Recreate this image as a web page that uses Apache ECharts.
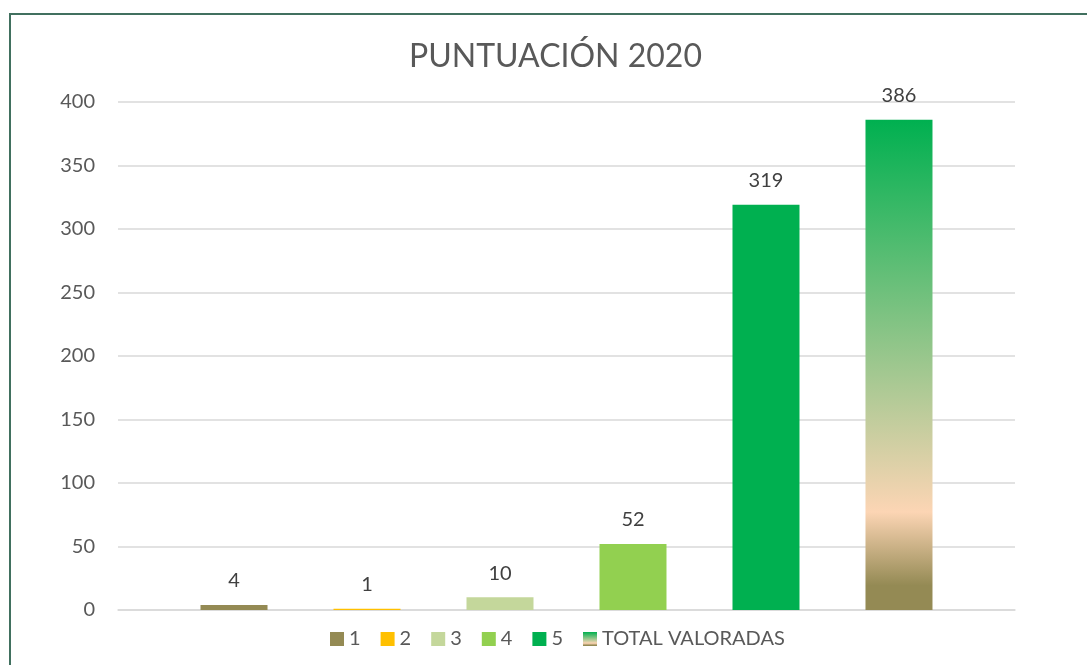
<!DOCTYPE html>
<html>
<head>
<meta charset="utf-8">
<script src="https://cdn.jsdelivr.net/npm/echarts@6/dist/echarts.min.js"></script>
<style>
  html, body { margin: 0; padding: 0; background: #fff; }
  #frame {
    position: absolute; left: 9px; top: 13px; width: 1100px; height: 700px;
    border-left: 2px solid #41705f; border-top: 2px solid #41705f; box-sizing: border-box;
  }
  #chart { position: absolute; left: 0; top: 0; width: 1087px; height: 665px; }
</style>
</head>
<body>
<div id="frame"></div>
<div id="chart"></div>
<script>
const categories = [''];
const seriesNames = ['1', '2', '3', '4', '5', 'TOTAL VALORADAS'];
const seriesValues = [4, 1, 10, 52, 319, 386];
const yTicks = [0, 50, 100, 150, 200, 250, 300, 350, 400];

const font = 'Lato';
const colors = [
    '#948A54',
    '#FFC000',
    '#C4D79B',
    '#92D050',
    '#00B050',
    {
        type: 'linear', x: 0, y: 0, x2: 0, y2: 1,
        colorStops: [
            { offset: 0, color: '#00B050' },
            { offset: 0.8, color: '#FCD5B4' },
            { offset: 0.95, color: '#948A54' },
            { offset: 1, color: '#948A54' },
        ],
    },
];

const chart = echarts.init(document.getElementById('chart'));

const option = {
    animation: false,
    textStyle: { fontFamily: font },
    title: {
        text: 'PUNTUACIÓN 2020',
        left: 404,
        top: 36,
        textStyle: { fontFamily: font, fontSize: 32, fontWeight: 'normal', color: '#595959' },
    },
    legend: {
        left: 325,
        top: 624,
        itemWidth: 14,
        itemHeight: 14,
        itemGap: 20,
        icon: 'rect',
        textStyle: { fontFamily: font, fontSize: 20, color: '#595959' },
        data: seriesNames,
    },
    grid: { left: 118, right: 72, top: 102, bottom: 55 },
    xAxis: {
        type: 'category',
        data: categories,
        axisLine: { lineStyle: { color: '#d9d9d9', width: 1.5 } },
        axisTick: { show: false },
        axisLabel: { show: false },
    },
    yAxis: {
        type: 'value',
        min: yTicks[0],
        max: yTicks[yTicks.length - 1],
        interval: 50,
        axisLine: { show: false },
        axisTick: { show: false },
        axisLabel: { fontFamily: font, fontSize: 20, color: '#595959', margin: 23 },
        splitLine: { lineStyle: { color: '#d9d9d9', width: 1.5 } },
    },
    series: seriesNames.map((name, i) => ({
        name: name,
        type: 'bar',
        data: [seriesValues[i]],
        barWidth: 67,
        barGap: '98.5%',
        itemStyle: { color: colors[i] },
        label: {
            show: true,
            position: 'top',
            distance: 14,
            fontFamily: font,
            fontSize: 20,
            color: '#404040',
        },
    })),
};

chart.setOption(option);
</script>
</body>
</html>
